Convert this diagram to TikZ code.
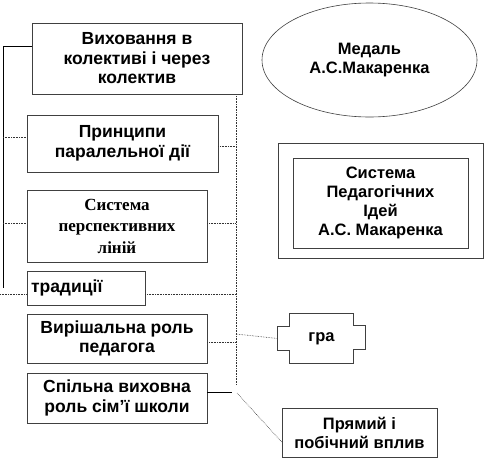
\documentclass[tikz,border=0pt]{standalone}
\usepackage{fontspec}
\setmainfont{Liberation Sans}
\newfontfamily\serifb{Liberation Serif}
\usetikzlibrary{shapes.geometric,calc}
\begin{document}
\begin{tikzpicture}[x=1pt,y=-1pt,
  box/.style={draw=black!75,line width=0.6pt,rectangle,align=center,inner sep=0pt,font=\fontsize{17.5}{19.5}\selectfont\bfseries},
  rbox/.style={box,font=\fontsize{16.5}{19}\selectfont\bfseries},
  conn/.style={black!80,line width=0.6pt,densely dotted},
  solidconn/.style={black,line width=0.6pt}]
\useasboundingbox (0,0) rectangle (484,461);
% boxes
\node[box,minimum width=210,minimum height=71] (b1) at (137,58.5) {Виховання в\\колективі і через\\колектив};
\node[box,minimum width=191,minimum height=57] (b2) at (122.5,143.5) {Принципи\\паралельної дії};
\node[box,minimum width=180,minimum height=72,font=\fontsize{17}{21.5}\selectfont\serifb\bfseries] (b3) at (117,226) {Система\\перспективних\\ліній};
\node[box,minimum width=118,minimum height=34,text width=110,align=left] (b4) at (86,288) {традиції};
\node[box,minimum width=180,minimum height=49] (b5) at (117,338.5) {Вирішальна роль\\педагога};
\node[box,minimum width=180,minimum height=50] (b6) at (117,398) {Спільна виховна\\роль сім'ї школи};
\node[rbox,draw=none,minimum width=87,minimum height=49] (gra) at (321.5,338.5) {гра};
\draw[black!75,line width=0.6pt] ($(gra.north west)+(12,0)$) -- ($(gra.north east)+(-12,0)$) -- ++(0,12) -- ++(12,0) -- ++(0,24) -- ++(-12,0) -- ($(gra.south east)+(-12,0)$) -- ($(gra.south west)+(12,0)$) -- ++(0,-13) -- ++(-12,0) -- ++(0,-24) -- ++(12,0) -- cycle;
\node[rbox,minimum width=155,minimum height=49] (pr) at (359.5,432.5) {Прямий і\\побічний вплив};
\node[rbox,ellipse,minimum width=215,minimum height=114] (med) at (369.5,60) {Медаль\\А.С.Макаренка};
\node[box,minimum width=205,minimum height=115] (outer) at (380.5,200.5) {};
\node[rbox,minimum width=175,minimum height=90] (inner) at (380.5,203) {Система\\Педагогічних\\Ідей\\А.С. Макаренка};
% left bus
\coordinate (L1) at (3,46);
\coordinate (L2) at (3,288);
\draw[solidconn] (L1) -- (L2);
\draw[solidconn] (L1) -- (L1 -| b1.west);
\draw[conn] (3,137) -- (b2.west |- 0,137);
\draw[conn] (3,223) -- (b3.west |- 0,223);
\draw[conn] (0,294) -- (b4.west |- 0,294);
% right bus
\coordinate (R1) at (236,96);
\coordinate (R2) at (236,385);
\draw[conn] (R1) -- (R2);
\draw[conn] (b2.east |- 0,146) -- (R1 |- 0,146);
\draw[conn] (b3.east |- 0,223) -- (R1 |- 0,223);
\draw[conn] (b4.east |- 0,294) -- (R1 |- 0,294);
\draw[conn] (b5.east |- 0,342) -- (R1 |- 0,342);
\draw[conn] (R1 |- 0,334) -- (gra.west);
\draw[solidconn] (b6.east |- 0,392) -- (232,392);
\coordinate (D) at (237,393);
\draw[conn] (D) -- ([yshift=-9.5]pr.west);
\end{tikzpicture}
\end{document}
